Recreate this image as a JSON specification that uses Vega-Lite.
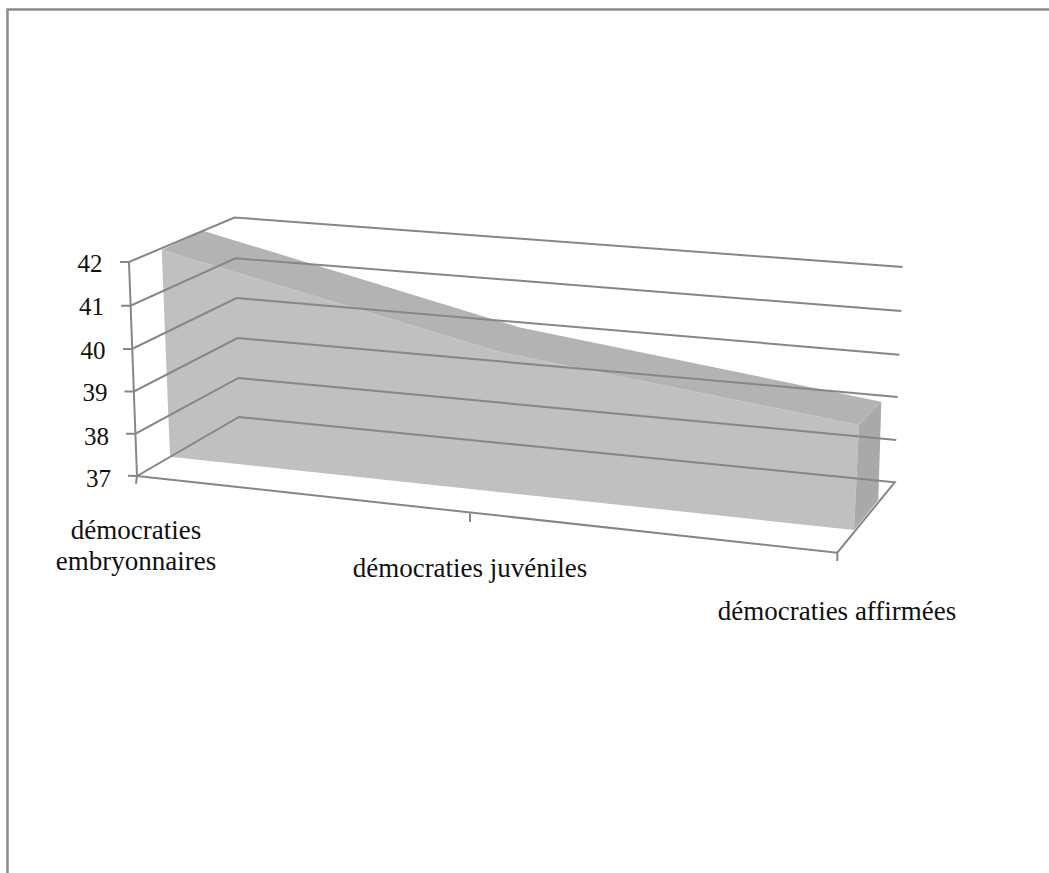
{
"$schema":"https://vega.github.io/schema/vega-lite/v6.json",
"width":1049,"height":873,"padding":0,"autosize":{"type":"none"},"background":"white",
"config":{"view":{"stroke":null}},
"datasets":{
"faces":[
{"face":"front","step":1,"position":0.0706,"value":42.2804},
{"face":"front","step":2,"position":1.0371,"value":39.8972},
{"face":"front","step":3,"position":2.0629,"value":38.1916},
{"face":"front","step":4,"position":2.0486,"value":35.7383},
{"face":"front","step":5,"position":0.0943,"value":37.4509},
{"face":"top","step":1,"position":0.0706,"value":42.2804},
{"face":"top","step":2,"position":0.1886,"value":42.7313},
{"face":"top","step":3,"position":1.0943,"value":40.4696},
{"face":"top","step":4,"position":2.1266,"value":38.736},
{"face":"top","step":5,"position":2.0629,"value":38.1916},
{"face":"top","step":6,"position":1.0371,"value":39.8972},
{"face":"side","step":1,"position":2.0629,"value":38.1916},
{"face":"side","step":2,"position":2.1266,"value":38.736},
{"face":"side","step":3,"position":2.118,"value":36.4393},
{"face":"side","step":4,"position":2.0486,"value":35.7383}
],
"lines":[
{"line":"g42","step":1,"position":-0.0486,"value":42},
{"line":"g42","step":2,"position":-0.0229,"value":42},
{"line":"g42","step":3,"position":0.2786,"value":43.0397},
{"line":"g42","step":4,"position":2.1877,"value":41.8832},
{"line":"g41","step":1,"position":-0.0457,"value":40.979},
{"line":"g41","step":2,"position":-0.0186,"value":40.979},
{"line":"g41","step":3,"position":0.2814,"value":42.0865},
{"line":"g41","step":4,"position":2.1837,"value":40.8551},
{"line":"g40","step":1,"position":-0.04,"value":39.9673},
{"line":"g40","step":2,"position":-0.0143,"value":39.9673},
{"line":"g40","step":3,"position":0.2843,"value":41.1589},
{"line":"g40","step":4,"position":2.178,"value":39.8341},
{"line":"g39","step":1,"position":-0.0357,"value":38.9743},
{"line":"g39","step":2,"position":-0.0086,"value":38.9743},
{"line":"g39","step":3,"position":0.2871,"value":40.2243},
{"line":"g39","step":4,"position":2.1734,"value":38.8458},
{"line":"g38","step":1,"position":-0.0314,"value":37.9883},
{"line":"g38","step":2,"position":-0.0043,"value":37.9883},
{"line":"g38","step":3,"position":0.29,"value":39.2897},
{"line":"g38","step":4,"position":2.1694,"value":37.8411},
{"line":"g37","step":1,"position":-0.0257,"value":37.007},
{"line":"g37","step":2,"position":0,"value":37},
{"line":"g37","step":3,"position":0.2914,"value":38.3785},
{"line":"g37","step":4,"position":2.1649,"value":36.8528},
{"line":"g37","step":5,"position":2.0009,"value":35.2079},
{"line":"g37","step":6,"position":0,"value":37},
{"line":"axis","step":1,"position":-0.0229,"value":42},
{"line":"axis","step":2,"position":0,"value":37},
{"line":"axis","step":3,"position":-0.0029,"value":36.8131},
{"line":"tick1","step":1,"position":0.9514,"value":36.1238},
{"line":"tick1","step":2,"position":0.9514,"value":35.9252},
{"line":"tick2","step":1,"position":2.0009,"value":35.2079},
{"line":"tick2","step":2,"position":2.0009,"value":35.014}
],
"frame":[
{"step":1,"position":-0.37,"value":27.724},
{"step":2,"position":-0.37,"value":47.8995},
{"step":3,"position":2.6057,"value":47.8995}
],
"labels":[
{"label":"42","size":"value","position":-0.1343,"value":41.96},
{"label":"41","size":"value","position":-0.13,"value":40.94},
{"label":"40","size":"value","position":-0.1257,"value":39.93},
{"label":"39","size":"value","position":-0.12,"value":38.93},
{"label":"38","size":"value","position":-0.1157,"value":37.92},
{"label":"37","size":"value","position":-0.11,"value":36.92}
],
"categories":[
{"label":"démocraties","position":-0.0029,"value":35.71},
{"label":"embryonnaires","position":-0.0029,"value":34.99},
{"label":"démocraties juvéniles","position":0.9514,"value":34.82},
{"label":"démocraties affirmées","position":2.0,"value":33.83}
]
},
"encoding":{
"x":{"field":"position","type":"quantitative","axis":null,"scale":{"domain":[-0.3914,2.6057],"nice":false,"zero":false}},
"y":{"field":"value","type":"quantitative","axis":null,"scale":{"domain":[27.724,48.1215],"nice":false,"zero":false}}
},
"layer":[
{"data":{"name":"frame"},"mark":{"type":"line","color":"#8c8c8c","strokeWidth":2.5},"encoding":{"order":{"field":"step","type":"ordinal"}}},
{"data":{"name":"faces"},"mark":{"type":"line","strokeWidth":0},"encoding":{"order":{"field":"step","type":"ordinal"},"detail":{"field":"face"},"fill":{"field":"face","type":"nominal","legend":null,"scale":{"domain":["front","top","side"],"range":["#c0c0c0","#b3b3b3","#a9a9a9"]}}}},
{"data":{"name":"lines"},"mark":{"type":"line","color":"#868686","strokeWidth":2},"encoding":{"order":{"field":"step","type":"ordinal"},"detail":{"field":"line"}}},
{"data":{"name":"labels"},"mark":{"type":"text","font":"Liberation Serif","fontSize":25,"color":"#111111","align":"center","baseline":"middle"},"encoding":{"text":{"field":"label"}}},
{"data":{"name":"categories"},"mark":{"type":"text","font":"Liberation Serif","fontSize":27,"color":"#111111","align":"center","baseline":"middle"},"encoding":{"text":{"field":"label"}}}
]
}
